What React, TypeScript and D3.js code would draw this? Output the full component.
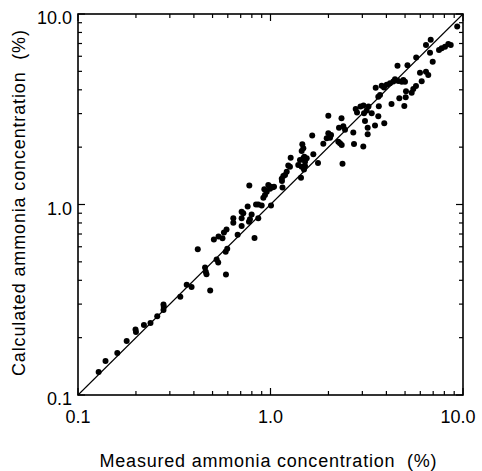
import React from "react";
import * as d3 from "d3";

const measured = [
  0.128, 0.139, 0.160, 0.179, 0.199, 0.200, 0.220, 0.238, 0.258, 0.278,
  0.279, 0.278, 0.340, 0.367, 0.389, 0.419, 0.457, 0.461, 0.465, 0.486,
  0.508, 0.525, 0.535, 0.537, 0.563, 0.573, 0.591, 0.585, 0.596, 0.587,
  0.641, 0.641, 0.675, 0.708, 0.708, 0.722, 0.708, 0.761, 0.776, 0.773,
  0.782, 0.798, 0.826, 0.841, 0.864, 0.900, 0.864, 0.918, 0.936, 0.956,
  0.929, 0.974, 0.994, 1.027, 1.043, 0.994, 1.006, 1.144, 1.166, 1.190,
  1.214, 1.154, 1.147, 1.237, 1.262, 1.273, 1.394, 1.452, 1.511, 1.493,
  1.440, 1.423, 1.481, 1.498, 1.542, 1.511, 1.463, 1.481, 1.452, 1.647,
  1.669, 1.765, 1.881, 1.959, 1.997, 2.038, 2.063, 1.997, 2.250, 2.296,
  2.344, 2.269, 2.389, 2.438, 2.338, 2.366, 2.692, 2.715, 2.771, 2.815,
  2.935, 3.042, 3.060, 3.159, 3.228, 3.096, 3.034, 3.197, 3.197, 3.491,
  3.900, 3.355, 3.631, 3.520, 3.653, 3.631, 3.706, 3.782, 3.887, 4.015,
  4.177, 4.345, 4.435, 4.613, 4.805, 4.898, 4.997, 4.253, 4.669, 4.956,
  5.057, 5.039, 5.148, 4.568, 5.413, 5.518, 5.698, 5.713, 5.978, 6.422,
  6.600, 6.101, 6.422, 6.796, 6.740, 6.961, 7.506, 7.752, 8.063, 8.388,
  8.634, 9.331,
];

const calculated = [
  0.132, 0.151, 0.166, 0.192, 0.221, 0.214, 0.233, 0.239, 0.259, 0.299,
  0.291, 0.279, 0.328, 0.379, 0.369, 0.582, 0.467, 0.443, 0.430, 0.354,
  0.656, 0.514, 0.496, 0.679, 0.665, 0.713, 0.739, 0.565, 0.586, 0.429,
  0.803, 0.846, 0.694, 0.771, 0.916, 0.899, 0.846, 0.976, 1.258, 0.812,
  0.836, 0.886, 0.667, 1.000, 1.000, 0.988, 0.846, 1.086, 1.122, 1.167,
  1.202, 1.266, 1.243, 1.231, 1.240, 1.209, 0.988, 1.366, 1.411, 1.428,
  1.486, 1.228, 1.328, 1.602, 1.579, 1.761, 1.612, 1.579, 1.593, 1.526,
  1.382, 1.713, 1.748, 1.782, 1.748, 1.678, 2.070, 1.972, 1.909, 2.302,
  1.837, 1.651, 2.085, 2.226, 2.364, 2.243, 2.316, 2.925, 2.136, 2.095,
  2.052, 2.530, 2.576, 2.470, 2.835, 1.638, 2.388, 2.078, 3.172, 3.040,
  3.269, 3.309, 3.010, 3.114, 3.269, 2.744, 2.016, 2.530, 2.336, 2.598,
  2.668, 3.010, 2.904, 4.104, 3.277, 3.680, 3.756, 4.205, 4.114, 4.256,
  4.328, 4.424, 4.542, 4.450, 4.412, 4.503, 4.412, 3.370, 3.614, 3.289,
  3.928, 3.654, 5.385, 5.347, 3.862, 4.040, 4.188, 5.911, 4.919, 4.979,
  4.785, 4.434, 6.873, 7.330, 6.265, 5.618, 6.471, 6.605, 6.735, 6.956,
  6.873, 8.599,
];

const majorTicks = [0.1, 1, 10];
const tickLabels = ["0.1", "1.0", "10.0"];
const minorTicks = [0.2, 0.3, 0.4, 0.5, 0.6, 0.7, 0.8, 0.9, 2, 3, 4, 5, 6, 7, 8, 9];
const xTitle = "Measured ammonia concentration  (%)";
const yTitle = "Calculated ammonia concentration  (%)";

const W = 482;
const H = 471;
const L = 78, R = 463, T = 14, B = 395;
const FONT = "'Liberation Sans', Arial, Helvetica, sans-serif";

export default function App() {
  const x = d3.scaleLog().domain([0.1, 10]).range([L, R]);
  const y = d3.scaleLog().domain([0.1, 10]).range([B, T]);
  const majorLen = 7;
  const minorLen = 4;

  return (
    <svg
      width={W}
      height={H}
      style={{ position: "absolute", left: 0, top: 0, background: "#fff" }}
      fontFamily={FONT}
    >
      <rect x={0} y={0} width={W} height={H} fill="#fff" />
      <line x1={x(0.1)} y1={y(0.1)} x2={x(10)} y2={y(10)} stroke="#000" strokeWidth={1.1} />
      {measured.map((m, i) => (
        <circle key={i} cx={x(m)} cy={y(calculated[i])} r={3} fill="#000" />
      ))}
      <rect x={L} y={T} width={R - L} height={B - T} fill="none" stroke="#000" strokeWidth={1.6} />
      {majorTicks.concat(minorTicks).map((v, i) => {
        const len = majorTicks.includes(v) ? majorLen : minorLen;
        const xv = x(v);
        const yv = y(v);
        return (
          <g key={"t" + i} stroke="#000" strokeWidth={1.2}>
            <line x1={xv} x2={xv} y1={B} y2={B - len} />
            <line x1={xv} x2={xv} y1={T} y2={T + len} />
            <line x1={L} x2={L + len} y1={yv} y2={yv} />
            <line x1={R} x2={R - len} y1={yv} y2={yv} />
          </g>
        );
      })}
      {majorTicks.map((v, i) => (
        <text
          key={"xl" + i}
          x={v === 10 ? 458 : x(v)}
          y={423}
          fontSize={18}
          textAnchor="middle"
        >
          {tickLabels[i]}
        </text>
      ))}
      {majorTicks.map((v, i) => (
        <text key={"yl" + i} x={72} y={y(v) + 10} fontSize={18} textAnchor="end">
          {tickLabels[i]}
        </text>
      ))}
      <text
        x={268}
        y={467}
        fontSize={18}
        textAnchor="middle"
        textLength={337}
        lengthAdjust="spacing"
        style={{ whiteSpace: "pre" }}
      >
        {xTitle}
      </text>
      <text
        transform="translate(25,203) rotate(-90)"
        fontSize={18}
        textAnchor="middle"
        textLength={346}
        lengthAdjust="spacing"
        style={{ whiteSpace: "pre" }}
      >
        {yTitle}
      </text>
    </svg>
  );
}
